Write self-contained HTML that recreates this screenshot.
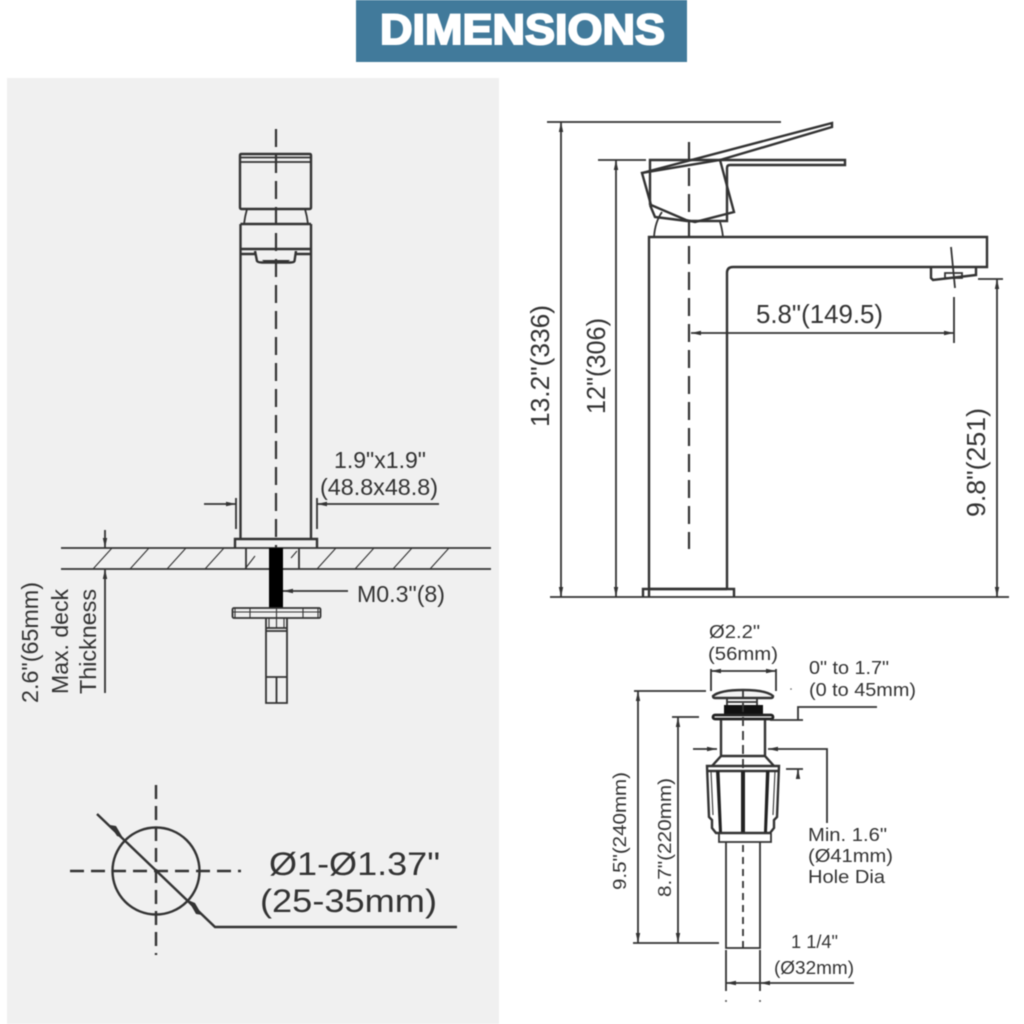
<!DOCTYPE html>
<html><head><meta charset="utf-8"><style>
html,body{margin:0;padding:0;background:#fff;width:1024px;height:1024px;overflow:hidden}
svg{display:block;filter:blur(.4px)}
text{font-family:"Liberation Sans",sans-serif;fill:#333}
.l{fill:none;stroke:#333;stroke-width:1.8}
.m{fill:none;stroke:#333;stroke-width:2.4}
.t{fill:none;stroke:#333;stroke-width:1.1}
.d{fill:none;stroke:#333;stroke-width:2.2;stroke-dasharray:18 8}
</style></head><body>
<svg width="1024" height="1024" viewBox="0 0 1024 1024" xmlns="http://www.w3.org/2000/svg">
<defs>
<marker id="a" markerUnits="userSpaceOnUse" markerWidth="12" markerHeight="8" refX="10" refY="4" orient="auto-start-reverse"><path d="M0 1.800L10 4L0 6.200Z" fill="#333"/></marker>
</defs>
<rect width="1024" height="1024" fill="#fff"/>
<rect x="7" y="78" width="492" height="946" fill="#f0f0f0"/>
<rect x="356" y="0" width="331" height="62" fill="#417a9b"/>
<text x="380" y="44" font-size="43" font-weight="700" textLength="285" lengthAdjust="spacingAndGlyphs" style="fill:#fff;stroke:#fff;stroke-width:2">DIMENSIONS</text>

<!-- left faucet -->
<path class="d" stroke-dasharray="17 8" d="M276 129V549"/>
<path class="m" d="M240 155.500Q240 154 241.500 154H309.500Q311 154 311 155.500V207.500Q311 209 309.500 209H241.500Q240 209 240 207.500Z"/>
<path class="l" d="M240 157.500H311M240 162H311M247 209Q245 216 244 224M305 209Q307 216 308 224"/>
<path class="m" d="M240.500 224H311M240.500 224V539M311 224V539M240.500 249H311M240.500 254H255M296 254H311"/>
<path class="m" d="M255 251L257 261Q258 262.500 262 262.500H290Q294 262.500 294.500 261L296 251"/>
<path d="M262 260H290L286 263.500H266Z" fill="#333"/>
<path class="m" d="M235 548V539H317V548"/>
<path class="l" d="M61 548H491M61 569H491M246 548V569M299 548V569"/>
<path class="t" d="M93 569L112 548M130 569L149 548M167 569L186 548M205 569L224 548M245 569L255 556M291 558L297 551M317 569L336 548M355 569L374 548M393 569L412 548M430 569L449 548"/>
<rect x="269" y="548" width="14" height="60" fill="#000"/>
<rect x="232.500" y="608" width="88" height="10" rx="1.500" class="l"/>
<path class="t" d="M232 612H321M250 608V618M303 608V618M235 608V618M318 608V618"/>
<path class="l" d="M266 618V703H287V618M266 628H287M266 631H287M266 677H287M276.500 677V703"/>
<path class="t" d="M269 618V628M284 618V628M276.500 608V628"/>
<path class="l" d="M236 498V529M317 498V529"/>
<path class="l" marker-end="url(#a)" d="M204 504H236"/>
<path class="l" marker-end="url(#a)" d="M439 504H317"/>
<text x="334" y="468" font-size="23" textLength="92" lengthAdjust="spacingAndGlyphs">1.9"x1.9"</text>
<text x="320" y="495" font-size="23" textLength="118" lengthAdjust="spacingAndGlyphs">(48.8x48.8)</text>
<path class="l" marker-end="url(#a)" d="M105 530V548"/>
<path class="l" marker-start="url(#a)" d="M105 569V693"/>
<text transform="translate(38 703) rotate(-90)" font-size="23" textLength="121" lengthAdjust="spacingAndGlyphs">2.6"(65mm)</text>
<text transform="translate(68 694) rotate(-90)" font-size="23" textLength="105" lengthAdjust="spacingAndGlyphs">Max. deck</text>
<text transform="translate(96 694) rotate(-90)" font-size="23" textLength="105" lengthAdjust="spacingAndGlyphs">Thickness</text>
<path class="l" marker-end="url(#a)" d="M348 591H283"/>
<text x="357" y="602" font-size="23" textLength="88" lengthAdjust="spacingAndGlyphs">M0.3"(8)</text>

<!-- circle -->
<circle cx="156" cy="871" r="43.500" class="m"/>
<path class="m" stroke-dasharray="14 7" d="M156 785V955M70 871H241"/>
<path class="m" d="M97 814L215 927H457"/>
<path d="M110 825L116 826L123 838L117 836Z" fill="#333"/>
<path d="M188 900L195 903L202 915L196 914Z" fill="#333"/>
<text x="269" y="875" font-size="32" textLength="171" lengthAdjust="spacingAndGlyphs">Ø1-Ø1.37"</text>
<text x="260" y="912" font-size="32" textLength="177" lengthAdjust="spacingAndGlyphs">(25-35mm)</text>

<!-- right faucet -->
<path class="l" d="M547 122H781M598 160H646M550 597H1009M978 279H1003"/>
<path class="l" marker-start="url(#a)" marker-end="url(#a)" d="M561 122V597"/>
<path class="l" marker-start="url(#a)" marker-end="url(#a)" d="M616 160V597"/>
<path class="l" marker-start="url(#a)" marker-end="url(#a)" d="M997 279V597"/>
<path class="d" d="M689 142V549"/>
<path class="m" d="M649 597V237H987V267H733Q727 267 727 273V589M649 589H727"/>
<path class="m" d="M643 597V589H734V597"/>
<path class="m" d="M650 205V160H720M650 205L655 217L687 221H727V168Q727 165 730 165H845V160H720"/>
<path class="m" d="M642 173L651 205L686 220L695 222L734 212L720 160Z"/>
<path class="m" d="M642 173L832 123L832 127L720 160"/>
<path class="l" d="M654 237Q655 222 662 212M723 237Q722 228 720 222"/>
<path class="m" d="M931 267V278L933 280L976 275V267"/>
<path class="l" d="M945 273H962V278H945Z"/>
<path class="l" d="M951 247L955 288M954 297V343"/>
<path class="l" marker-start="url(#a)" marker-end="url(#a)" d="M691 333H954"/>
<text x="756" y="323" font-size="26" textLength="127" lengthAdjust="spacingAndGlyphs">5.8"(149.5)</text>
<text transform="translate(549 427) rotate(-90)" font-size="26" textLength="122" lengthAdjust="spacingAndGlyphs">13.2"(336)</text>
<text transform="translate(605 414) rotate(-90)" font-size="26" textLength="96" lengthAdjust="spacingAndGlyphs">12"(306)</text>
<text transform="translate(985 517) rotate(-90)" font-size="26" textLength="109" lengthAdjust="spacingAndGlyphs">9.8"(251)</text>

<!-- drain -->
<path class="l" d="M711 669V691M776 669V691"/>
<path class="l" marker-start="url(#a)" marker-end="url(#a)" d="M711 671H776"/>
<text x="709" y="638" font-size="18" textLength="51" lengthAdjust="spacingAndGlyphs">Ø2.2"</text>
<text x="708" y="660" font-size="18" textLength="70" lengthAdjust="spacingAndGlyphs">(56mm)</text>
<text x="809" y="674" font-size="18" textLength="80" lengthAdjust="spacingAndGlyphs">0" to 1.7"</text>
<text x="809" y="696" font-size="18" textLength="107" lengthAdjust="spacingAndGlyphs">(0 to 45mm)</text>
<circle cx="791" cy="689" r=".8" fill="#555"/>
<path class="l" d="M634 691H706M672 717H699M633 943H719"/>
<path class="l" marker-start="url(#a)" marker-end="url(#a)" d="M638 691V943"/>
<path class="l" marker-start="url(#a)" marker-end="url(#a)" d="M678 717V943"/>
<text transform="translate(626 890) rotate(-90)" font-size="18" textLength="118" lengthAdjust="spacingAndGlyphs">9.5"(240mm)</text>
<text transform="translate(671 897) rotate(-90)" font-size="18" textLength="119" lengthAdjust="spacingAndGlyphs">8.7"(220mm)</text>
<path d="M713 696Q720 690 743 690Q766 690 773 696Q773 698 771 698H715Q713 698 713 696Z" fill="#f4f4f4" stroke="#333" stroke-width="2.400"/>
<path class="l" d="M727 698V706M757 698V706M727 702H757"/>
<rect x="724" y="705" width="39" height="9" fill="#111"/>
<rect x="713" y="715" width="60" height="4" rx="2" fill="none" stroke="#222" stroke-width="2.800"/>
<path class="m" d="M721 720V756L712 766M765 720V756L774 766M721 756H765"/>
<path class="m" d="M707 766H779L777 817L774 820L774 828L770 833H716L712 828V820L709 817ZM708 771H778"/>
<path class="t" d="M711 771L713 815M775 771L773 815"/>
<path d="M716 771H719.500L722 832H719ZM766 771H769.500L767 832H764ZM741 771H745V832H741Z" fill="#222"/>
<path class="l" d="M719 833V842H771V833M726 842V948H760V842"/>
<path class="l" stroke-dasharray="7 5" d="M743 845V950"/>
<path class="l" stroke-dasharray="9 5" d="M743 689V771"/>
<path class="l" marker-end="url(#a)" d="M693 749H717"/>
<path class="l" marker-end="url(#a)" d="M827 823V749H768"/>
<path class="l" d="M786 769H803"/>
<path class="l" marker-start="url(#a)" d="M798 769V779"/>
<path class="l" d="M877 707H798V720M770 720H803"/>
<text x="808" y="841" font-size="18" textLength="79" lengthAdjust="spacingAndGlyphs">Min. 1.6"</text>
<text x="808" y="862" font-size="18" textLength="85" lengthAdjust="spacingAndGlyphs">(Ø41mm)</text>
<text x="808" y="883" font-size="18" textLength="77" lengthAdjust="spacingAndGlyphs">Hole Dia</text>
<path class="l" d="M726 950V991M760 950V991"/>
<path class="l" marker-start="url(#a)" d="M726 983H760"/>
<path class="l" marker-end="url(#a)" d="M854 983H760"/>
<circle cx="726" cy="1001" r="1" fill="#555"/><circle cx="760" cy="1001" r="1" fill="#555"/>
<text x="791" y="948" font-size="18" textLength="47" lengthAdjust="spacingAndGlyphs">1 1/4"</text>
<text x="774" y="974" font-size="18" textLength="80" lengthAdjust="spacingAndGlyphs">(Ø32mm)</text>
</svg>
</body></html>
